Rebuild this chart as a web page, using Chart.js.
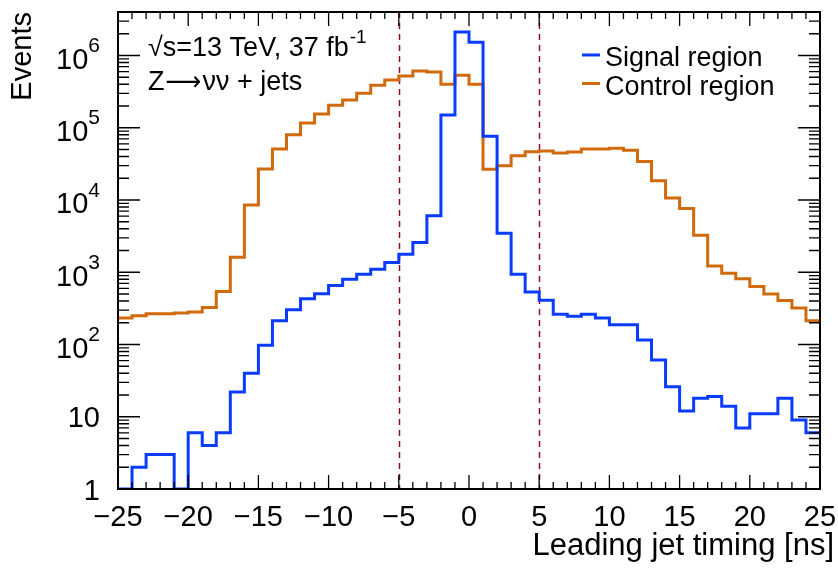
<!DOCTYPE html>
<html><head><meta charset="utf-8">
<script src="https://cdn.jsdelivr.net/npm/chart.js@4"></script>
<style>html,body{margin:0;padding:0;background:#fff;} canvas{display:block;}</style>
</head><body>
<canvas id="c" width="838" height="568"></canvas>
<script>
// ---- data ----
const binEdges = [-25,-24,-23,-22,-21,-20,-19,-18,-17,-16,-15,-14,-13,-12,-11,-10,-9,-8,-7,-6,-5,-4,-3,-2,-1,0,1,2,3,4,5,6,7,8,9,10,11,12,13,14,15,16,17,18,19,20,21,22,23,24,25];
const signalRegion = [1,2,3,3,1,6,4,6,22,40,98,213,302,429,502,655,802,941,1104,1362,1780,2580,6030,150000,2110000,1520000,76300,3475,941,535,411,263,247,263,232,188,188,115,61,26,12,18,19,14,7,11,11,18,9,6];
const controlRegion = [232,250,266,266,272,281,325,541,1618,8550,26900,50900,80300,116500,155000,205000,243000,300000,387000,458000,520000,611000,592000,399000,532000,399000,26700,29900,41100,46700,47700,44800,46300,50900,50900,52000,48800,34000,18500,10700,7600,3260,1225,971,811,634,498,406,319,213];
const xTickValues = [-25,-20,-15,-10,-5,0,5,10,15,20,25];
const yTickExponents = [0,1,2,3,4,5,6];
const cutLines = [-5, 5];
const seriesLabels = ['Signal region', 'Control region'];
const annotation1 = ['\u221As=13 TeV, 37 fb', '-1'];
const annotation2 = ['Z', '\u27F6', '\u03BD\u03BD + jets'];
const xTitle = 'Leading jet timing [ns]';
const yTitle = 'Events';

const FONT = '"Liberation Sans", Arial, Helvetica, sans-serif';
const BLUE = '#0a3cff';
const ORANGE = '#d06a0c';

function histPoints(values) {
  const pts = values.map((v, i) => ({x: binEdges[i], y: v}));
  pts.push({x: binEdges[values.length], y: values[values.length - 1]});
  return pts;
}

const decor = {
  id: 'decor',
  beforeDatasetsDraw(chart) {
    const {ctx, chartArea: a, scales: {x}} = chart;
    ctx.save();
    ctx.strokeStyle = '#8e1018';
    ctx.lineWidth = 1.5;
    ctx.setLineDash([6, 5]);
    cutLines.forEach(v => {
      const px = Math.round(x.getPixelForValue(v)) + 0.5;
      ctx.beginPath(); ctx.moveTo(px, a.top); ctx.lineTo(px, a.bottom); ctx.stroke();
    });
    ctx.restore();
  },
  afterDatasetsDraw(chart) {
    const {ctx, chartArea: a, scales: {x, y}} = chart;
    ctx.save();
    ctx.strokeStyle = '#000';
    ctx.lineWidth = 1.3;
    for (let v = x.min; v <= x.max + 1e-9; v += 1) {
      const px = x.getPixelForValue(v);
      const len = (Math.round(v) % 5 === 0) ? 14 : 7;
      ctx.beginPath();
      ctx.moveTo(px, a.bottom); ctx.lineTo(px, a.bottom - len);
      ctx.moveTo(px, a.top); ctx.lineTo(px, a.top + len);
      ctx.stroke();
    }
    for (let k = 0; k <= 6; k++) {
      for (let m = 1; m <= 9; m++) {
        const v = m * Math.pow(10, k);
        if (v > y.max * 1.0001) break;
        const py = y.getPixelForValue(v);
        const len = m === 1 ? 22 : 11;
        ctx.beginPath();
        ctx.moveTo(a.left, py); ctx.lineTo(a.left + len, py);
        ctx.moveTo(a.right, py); ctx.lineTo(a.right - len, py);
        ctx.stroke();
      }
    }
    ctx.lineWidth = 2;
    ctx.strokeRect(a.left, a.top, a.right - a.left, a.bottom - a.top);
    ctx.restore();
  },
  afterDraw(chart) {
    const {ctx, scales: {y}} = chart;
    ctx.save();
    ctx.fillStyle = '#000';
    ctx.textBaseline = 'alphabetic';
    const right = 100;
    yTickExponents.forEach(k => {
      const py = y.getPixelForValue(Math.pow(10, k));
      ctx.textAlign = 'right';
      if (k === 0 || k === 1) {
        ctx.font = '29px ' + FONT;
        ctx.fillText(k === 0 ? '1' : '10', right, py + 10.5);
      } else {
        ctx.font = '21px ' + FONT;
        const ew = ctx.measureText(String(k)).width;
        ctx.fillText(String(k), right, py + 13.3 - 16.6);
        ctx.font = '29px ' + FONT;
        ctx.fillText('10', right - ew, py + 13.3);
      }
    });
    // x title
    ctx.font = '31px ' + FONT;
    ctx.textAlign = 'right';
    ctx.fillText(xTitle, 834, 555);
    // annotations
    ctx.textAlign = 'left';
    ctx.font = '27px ' + FONT;
    ctx.fillText(annotation1[0], 148, 56);
    const w1 = ctx.measureText(annotation1[0]).width;
    ctx.font = '19px ' + FONT;
    ctx.fillText(annotation1[1], 148 + w1 + 1, 43);
    let xx = 148;
    ctx.font = '27px ' + FONT;
    ctx.fillText(annotation2[0], xx, 90);
    xx += ctx.measureText(annotation2[0]).width + 1;
    ctx.font = '27px "DejaVu Sans", sans-serif';
    const aw = ctx.measureText(annotation2[1]).width;
    ctx.save();
    ctx.translate(xx, 0);
    ctx.scale(36 / aw, 1);
    ctx.fillText(annotation2[1], 0, 90);
    ctx.restore();
    xx += 37;
    ctx.font = '27px ' + FONT;
    ctx.fillText(annotation2[2], xx, 90);
    // legend
    const ds = chart.data.datasets;
    const rows = [66, 94.5];
    ds.forEach((d, i) => {
      const cy = rows[i] - 11;
      ctx.strokeStyle = d.borderColor;
      ctx.lineWidth = 3;
      ctx.beginPath(); ctx.moveTo(582, cy); ctx.lineTo(600, cy); ctx.stroke();
      ctx.font = '27px ' + FONT;
      ctx.fillStyle = '#000';
      ctx.fillText(d.label, 605, rows[i]);
    });
    ctx.restore();
  }
};

new Chart(document.getElementById('c'), {
  type: 'line',
  data: {
    datasets: [
      {label: seriesLabels[0], data: histPoints(signalRegion), borderColor: BLUE, backgroundColor: BLUE, borderWidth: 3, pointRadius: 0, stepped: true, fill: false},
      {label: seriesLabels[1], data: histPoints(controlRegion), borderColor: ORANGE, backgroundColor: ORANGE, borderWidth: 3, pointRadius: 0, stepped: true, fill: false}
    ]
  },
  options: {
    responsive: false,
    animation: false,
    devicePixelRatio: 1,
    layout: {padding: {top: 12, right: 18, left: 0, bottom: 0}},
    plugins: {legend: {display: false}, tooltip: {enabled: false}},
    scales: {
      x: {
        type: 'linear', min: -25, max: 25,
        afterFit(s) { s.height = 79; s.paddingLeft = 0; s.paddingRight = 0; },
        afterBuildTicks(s) { s.ticks = xTickValues.map(v => ({value: v})); },
        grid: {display: false, drawTicks: false},
        border: {display: false},
        ticks: {
          font: {family: FONT, size: 29}, color: '#000', padding: 12,
          maxRotation: 0, autoSkip: false,
          callback: v => v < 0 ? '\u2212' + Math.abs(v) : String(v)
        },
        title: {display: false}
      },
      y: {
        type: 'logarithmic', min: 1, max: 4e6,
        afterFit(s) { s.width = 118; s.paddingTop = 0; s.paddingBottom = 0; },
        grid: {display: false, drawTicks: false},
        border: {display: false},
        ticks: {display: false},
        title: {display: true, text: yTitle, align: 'end', color: '#000', font: {family: FONT, size: 29}, padding: {top: 6, bottom: 0}}
      }
    }
  },
  plugins: [decor]
});
</script>
</body></html>
